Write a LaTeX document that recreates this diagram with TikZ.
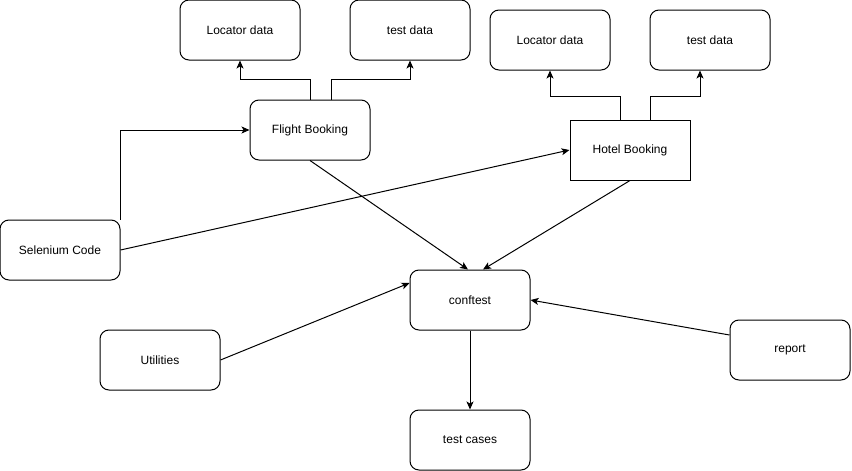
\documentclass[tikz,border=0pt]{standalone}
\usepackage{fontspec}
\setmainfont{Liberation Sans}
\usepackage{xcolor}
\usetikzlibrary{arrows.meta}

\tikzset{
  box/.style={draw, line width=1pt, rounded corners=9pt, minimum width=120pt, minimum height=60pt, inner sep=0pt, font=\fontsize{12}{14}\selectfont},
  sharpbox/.style={box, rounded corners=0pt},
  arr/.style={draw, line width=1pt, -{Stealth[length=8pt,width=7pt,inset=2pt]}}
}

\begin{document}
\begin{tikzpicture}[x=1pt,y=1pt,yscale=-1,xscale=1]
\useasboundingbox (0,0) rectangle (852,471);

% Text Node
\node[box] (locflight) at (240,30) {Locator data};
% Text Node
\node[box] (testflight) at (410,30) {test data};
% Text Node
\node[box] (lochotel) at (550,40) {Locator data};
% Text Node
\node[box] (testhotel) at (710,40) {test data};
% Text Node
\node[box] (flight) at (310,130) {Flight Booking};
% Text Node
\node[sharpbox] (hotel) at (630,150) {Hotel Booking};
% Text Node
\node[box] (selenium) at (60,250) {Selenium Code};
% Text Node
\node[box] (conftest) at (470,300) {conftest};
% Text Node
\node[box] (utilities) at (160,360) {Utilities};
% Text Node
\node[box] (report) at (790,350) {report};
% Text Node
\node[box] (testcases) at (470,440) {test cases};

% Connection
\draw[arr] (flight.north) -- ++(0,-20) -| (locflight.south);
\draw[arr] ([xshift=21pt]flight.north) -- ++(0,-20) -| (testflight.south);
% Connection
\draw[arr] ([xshift=-10pt]hotel.north) -- ++(0,-23) -| (lochotel.south);
\draw[arr] ([xshift=20pt]hotel.north) -- ++(0,-23) -| ([xshift=-10pt]testhotel.south);
% Connection
\draw[arr] (selenium.north east) |- (flight.west);
\draw[arr] (selenium.east) -- (hotel.west);
% Connection
\draw[arr] (flight.south) -- ([xshift=-2pt]conftest.north);
\draw[arr] (hotel.south) -- ([xshift=13pt]conftest.north);
\draw[arr] (utilities.east) -- ([yshift=-17pt]conftest.west);
\draw[arr] ([yshift=-15pt]report.west) -- (conftest.east);
\draw[arr] (conftest.south) -- (testcases.north);

\end{tikzpicture}
\end{document}
